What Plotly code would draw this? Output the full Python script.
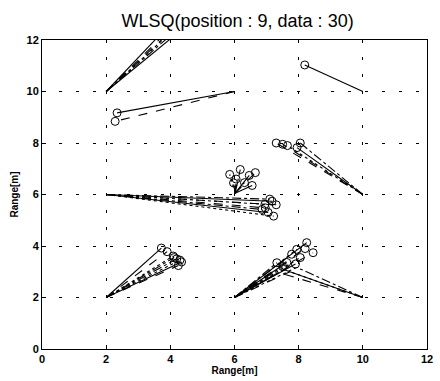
import plotly.graph_objects as go

# ---- data ----
tick_vals = [0, 2, 4, 6, 8, 10, 12]
tick_text = ["0", "2", "4", "6", "8", "10", "12"]

# group A: anchor (2,10), estimates above the top edge
a_anchor = (2, 10)
a_est_x = [3.9, 4.05, 4.2, 4.3, 4.45, 4.15]
a_est_y = [12.5, 12.5, 12.5, 12.5, 12.5, 12.5]

# group B: anchor (6,10)
b_anchor = (6, 10)
b_est_x = [2.34, 2.28]
b_est_y = [9.17, 8.84]

# group C: anchor (10,10)
c_anchor = (10, 10)
c_est_x = [8.19]
c_est_y = [11.03]

# group D: anchor (10,6)
d_anchor = (10, 6)
d_est_x = [7.3, 7.65, 8.05, 7.95, 7.5]
d_est_y = [8.0, 7.9, 8.0, 7.82, 7.95]

# group E: anchor (2,6)
e_anchor = (2, 6)
e_est_x = [7.17, 6.96, 7.22, 6.86, 7.05, 7.3, 6.95, 7.1]
e_est_y = [5.74, 5.48, 5.16, 5.42, 5.3, 5.6, 5.62, 5.82]

# group F: anchor (6,6)
f_anchor = (6.02, 6.05)
f_est_x = [5.85, 6.18, 6.46, 6.65, 6.31, 5.97, 6.55, 6.05]
f_est_y = [6.78, 6.97, 6.74, 6.85, 6.46, 6.45, 6.35, 6.6]

# group G: anchor (2,2)
g_anchor = (2, 2)
g_est_x = [3.72, 3.9, 4.09, 4.12, 4.35, 4.25, 4.3, 4.2]
g_est_y = [3.92, 3.78, 3.61, 3.55, 3.38, 3.24, 3.45, 3.5]

# group H: anchors (6,2) and (10,2)
h_anchor1 = (6, 2)
h_anchor2 = (10, 2)
h_est_x = [8.25, 8.45, 7.94, 7.32, 7.63, 7.78, 8.05, 7.5, 7.9, 8.2]
h_est_y = [4.13, 3.74, 3.87, 3.35, 3.36, 3.68, 3.55, 3.2, 3.3, 3.9]
h2_est_x = [7.37, 7.73, 7.94, 7.55]
h2_est_y = [2.97, 3.0, 3.17, 3.08]

styles = ["solid", "dash", "dot", "dashdot"]

fig = go.Figure()


def add_group(anchor, ex, ey, markers=True, offset=0):
    for i, (x, y) in enumerate(zip(ex, ey)):
        fig.add_trace(go.Scatter(
            x=[anchor[0], x], y=[anchor[1], y], mode="lines",
            line=dict(color="black", width=1.1, dash=styles[(i + offset) % 4]),
            showlegend=False, hoverinfo="skip"))
    if markers:
        fig.add_trace(go.Scatter(
            x=ex, y=ey, mode="markers",
            marker=dict(symbol="circle-open", size=8, color="black",
                        line=dict(width=1, color="black")),
            showlegend=False, hoverinfo="skip", cliponaxis=True))


add_group(a_anchor, a_est_x, a_est_y)
add_group(b_anchor, b_est_x, b_est_y)
add_group(c_anchor, c_est_x, c_est_y)
add_group(d_anchor, d_est_x, d_est_y, offset=1)
add_group(e_anchor, e_est_x, e_est_y)
add_group(f_anchor, f_est_x, f_est_y, offset=2)
add_group(g_anchor, g_est_x, g_est_y)
add_group(h_anchor1, h_est_x, h_est_y)
add_group(h_anchor1, h2_est_x, h2_est_y, markers=False)
add_group(h_anchor2, h2_est_x, h2_est_y, markers=False, offset=1)

axis_common = dict(
    range=[0, 12], tickvals=tick_vals, ticktext=tick_text,
    showline=True, linecolor="black", linewidth=1, mirror=True,
    ticks="inside", ticklen=4, tickcolor="black",
    showgrid=True, gridcolor="black", gridwidth=1, griddash="3px,14px",
    zeroline=False,
    tickfont=dict(family="Liberation Sans, Arial, sans-serif", size=11,
                  color="black", weight="bold"),
)

fig.update_layout(
    width=440, height=381,
    margin=dict(l=42, r=7, t=40, b=31),
    paper_bgcolor="white", plot_bgcolor="white",
    title=dict(text="WLSQ(position : 9, data : 30)", x=0.54, xanchor="center",
               y=0.945, yanchor="middle",
               font=dict(family="Liberation Sans, Arial, sans-serif", size=18,
                         color="black")),
    xaxis=dict(**axis_common,
               title=dict(text="Range[m]", standoff=2,
                          font=dict(family="Liberation Sans, Arial, sans-serif",
                                    size=10, color="black", weight="bold"))),
    yaxis=dict(**axis_common,
               title=dict(text="Range[m]", standoff=6,
                          font=dict(family="Liberation Sans, Arial, sans-serif",
                                    size=10, color="black", weight="bold"))),
)

fig.write_html("out.html")
